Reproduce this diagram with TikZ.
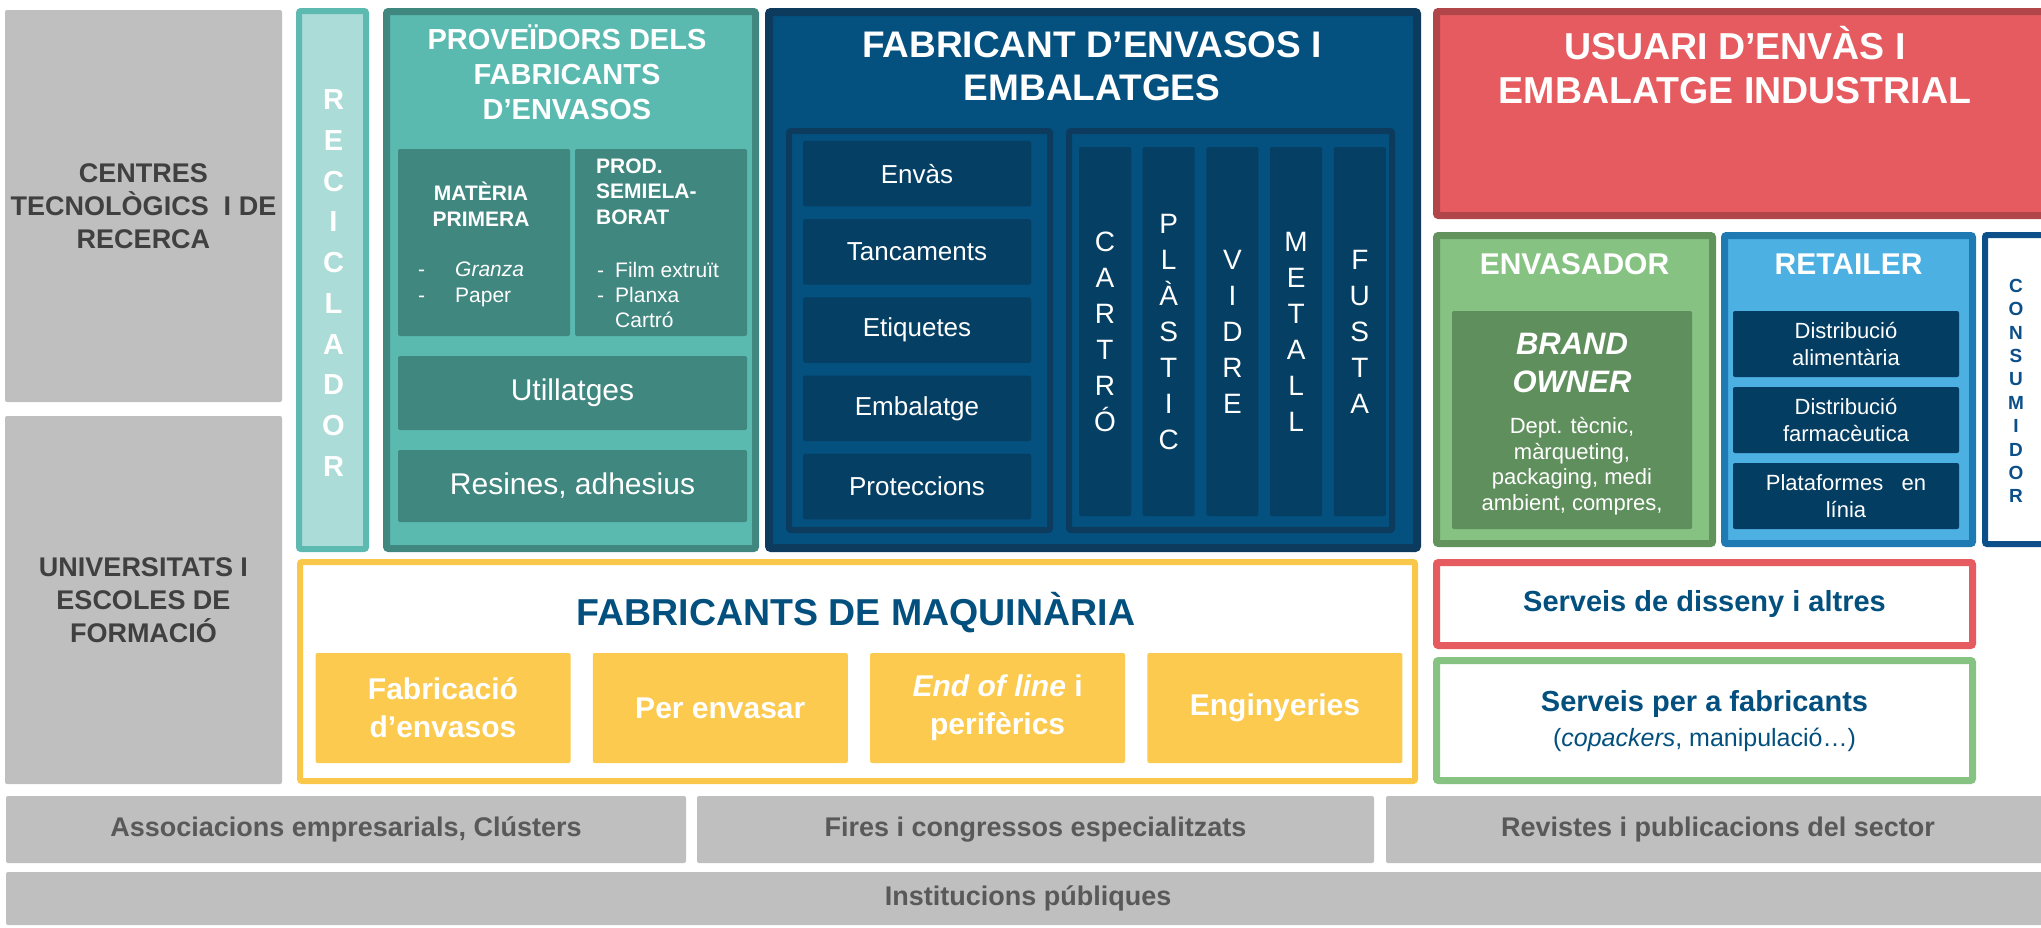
\documentclass[tikz,border=0pt]{standalone}
\usepackage{fontspec}
\setmainfont{Liberation Sans}
\usetikzlibrary{calc,positioning}
\definecolor{boxgrey}{HTML}{BFBFBF}
\definecolor{greytext}{HTML}{404040}
\definecolor{striptext}{HTML}{595959}
\definecolor{recfill}{HTML}{ACDCD7}
\definecolor{recborder}{HTML}{5CBAB1}
\definecolor{provfill}{HTML}{5BBAB0}
\definecolor{provdark}{HTML}{40877F}
\definecolor{fabfill}{HTML}{04507F}
\definecolor{fabborder}{HTML}{0C3B5E}
\definecolor{fabdark}{HTML}{053F64}
\definecolor{usufill}{HTML}{E55B5F}
\definecolor{usuborder}{HTML}{B0454A}
\definecolor{envfill}{HTML}{86C382}
\definecolor{envborder}{HTML}{62935D}
\definecolor{brandfill}{HTML}{5F8F5C}
\definecolor{retfill}{HTML}{4CB0E3}
\definecolor{retborder}{HTML}{1F79B3}
\definecolor{retdark}{HTML}{033D62}
\definecolor{consborder}{HTML}{0D5089}
\definecolor{maqborder}{HTML}{F9C84A}
\definecolor{maqfill}{HTML}{FBCA4E}
\definecolor{titleblue}{HTML}{03507F}

\begin{document}
\begin{tikzpicture}[x=1pt,y=-1pt]

\tikzset{box/.style={rounded corners=2pt,inner sep=0pt,align=center,text=white},
greybox/.style={box,fill=boxgrey,text=greytext,font=\fontsize{27}{33}\selectfont\bfseries},
strip/.style={box,fill=boxgrey,text=striptext,font=\fontsize{27}{32}\selectfont\bfseries},
title/.style={inner sep=0pt,align=center,text=white},
listitem/.style={inner sep=0pt,anchor=west,text height=15pt,text depth=0pt,text=white,font=\fontsize{21}{26}\selectfont},
letters/.style={inner sep=0pt,align=center}}

\useasboundingbox (0,0) rectangle (2041,927);

% Left grey boxes
\node[greybox,minimum width=277pt,minimum height=392pt] (centres) at (143.5,206) {CENTRES\\TECNOLÒGICS\ \ I DE\\RECERCA};
\node[greybox,minimum width=277pt,minimum height=368pt] (univ) at (143.5,600) {UNIVERSITATS I\\ESCOLES DE\\FORMACIÓ};

% Reciclador
\node[box,draw=recborder,fill=recfill,line width=6pt,minimum width=67pt,minimum height=538pt] (recic) at (332.5,280) {};
\node[letters,text=white,font=\fontsize{29}{40.7}\selectfont\bfseries] (reclabel) at (333.5,283) {R\\E\\C\\I\\C\\L\\A\\D\\O\\R};

% Proveidors
\node[box,draw=provdark,fill=provfill,line width=7pt,minimum width=369pt,minimum height=537pt] (prov) at (571,280) {};
\node[title,font=\fontsize{29}{35}\selectfont\bfseries] (provtitle) at (567,72) {PROVEÏDORS DELS\\FABRICANTS\\D’ENVASOS};
\node[box,fill=provdark,minimum width=172pt,minimum height=187pt] (matprim) at (484,242.5) {};
\node[box,fill=provdark,minimum width=172pt,minimum height=187pt] (prodsemi) at (661,242.5) {};
\node[title,font=\fontsize{21}{26}\selectfont\bfseries] (matlabel) at (481,204) {MATÈRIA\\PRIMERA};
\node[title,align=left,anchor=west,font=\fontsize{21}{25.5}\selectfont\bfseries] (prodlabel) at (596,191.5) {PROD.\\SEMIELA-\\BORAT};
\foreach \t [count=\i] in {\textit{Granza},Paper} {
  \node[listitem] (matdash\i) at (418,{242.2+\i*26.4}) {-};
  \node[listitem] (matitem\i) at (455,{242.2+\i*26.4}) {\t};
}
\foreach \i in {1,2} \node[listitem] (proddash\i) at (597,{245+\i*25}) {-};
\foreach \t [count=\i] in {Film extruït,Planxa,Cartró} \node[listitem] (proditem\i) at (615,{245+\i*25}) {\t};
\node[box,fill=provdark,minimum width=349pt,minimum height=74pt,font=\fontsize{30}{36}\selectfont] (utill) at (572.5,393) {Utillatges};
\node[box,fill=provdark,minimum width=349pt,minimum height=72pt,font=\fontsize{30}{36}\selectfont] (resines) at (572.5,486) {Resines, adhesius};

% Fabricant d'envasos
\node[box,draw=fabborder,fill=fabfill,line width=8pt,minimum width=648pt,minimum height=536pt] (fab) at (1093,280) {};
\node[title,font=\fontsize{37}{43}\selectfont\bfseries] (fabtitle) at (1092,66) {FABRICANT D’ENVASOS I\\EMBALATGES};
\node[box,draw=fabborder,fill=fabfill,line width=6pt,minimum width=261pt,minimum height=399pt] (fableft) at (919.5,330.5) {};
\node[box,draw=fabborder,fill=fabfill,line width=6pt,minimum width=323pt,minimum height=399pt] (fabright) at (1230.5,330.5) {};
\foreach \t [count=\i] in {Envàs,Tancaments,Etiquetes,Embalatge,Proteccions}
  \node[box,fill=fabdark,minimum width=228pt,minimum height=65.5pt,font=\fontsize{26}{31}\selectfont] (fabitem\i) at (917,{95.5+\i*78.2}) {\t};
\foreach \w [count=\i] in {{C\\A\\R\\T\\R\\Ó},{P\\L\\À\\S\\T\\I\\C},{V\\I\\D\\R\\E},{M\\E\\T\\A\\L\\L},{F\\U\\S\\T\\A}}
  \node[box,fill=fabdark,minimum width=52pt,minimum height=369pt,font=\fontsize{28}{36}\selectfont] (col\i) at ({1041.3+\i*63.7},331.5) {\w};

% Usuari
\node[box,draw=usuborder,fill=usufill,line width=7pt,minimum width=610pt,minimum height=204pt] (usuari) at (1741.5,113.5) {};
\node[title,font=\fontsize{37.5}{44.5}\selectfont\bfseries] (usutitle) at (1735,65) {USUARI D’ENVÀS I\\EMBALATGE INDUSTRIAL};

% Envasador
\node[box,draw=envborder,fill=envfill,line width=7pt,minimum width=276pt,minimum height=308pt] (envas) at (1574.5,389.5) {};
\node[title,font=\fontsize{30}{36}\selectfont\bfseries] (envtitle) at (1574.5,264) {ENVASADOR};
\node[box,fill=brandfill,minimum width=240pt,minimum height=218pt] (brand) at (1572,420) {};
\node[title,font=\fontsize{31}{37.5}\selectfont\bfseries\itshape] (brandlabel) at (1572,363) {BRAND\\OWNER};
\node[title,font=\fontsize{22}{25.6}\selectfont] (brandtext) at (1572,466) {Dept. tècnic,\\màrqueting,\\packaging, medi\\ambient, compres,};

% Retailer
\node[box,draw=retborder,fill=retfill,line width=7pt,minimum width=248pt,minimum height=308pt] (retail) at (1848.5,389.5) {};
\node[title,font=\fontsize{30}{36}\selectfont\bfseries] (rettitle) at (1848.5,264) {RETAILER};
\foreach \t [count=\i] in {{Distribució\\alimentària},{Distribució\\farmacèutica},{Plataformes\ \ \ en\\línia}}
  \node[box,fill=retdark,minimum width=226pt,minimum height=66pt,font=\fontsize{22}{27}\selectfont] (retitem\i) at (1846,{268+\i*76}) {\t};

% Consumidor
\node[box,draw=consborder,fill=white,line width=6pt,minimum width=62pt,minimum height=309pt] (consum) at (2016,389.5) {};
\node[letters,text=consborder,font=\fontsize{19}{23.4}\selectfont\bfseries] (conslabel) at (2016,391) {C\\O\\N\\S\\U\\M\\I\\D\\O\\R};

% Fabricants de maquinaria
\node[box,draw=maqborder,fill=white,line width=6pt,minimum width=1115pt,minimum height=219pt] (maq) at (857.5,671.5) {};
\node[title,text=titleblue,font=\fontsize{37.5}{42}\selectfont\bfseries] (maqtitle) at (856,612.7) {FABRICANTS DE MAQUINÀRIA};
\foreach \t [count=\i] in {{Fabricació\\d’envasos},{Per envasar},{\textit{End of line} i\\perifèrics},{Enginyeries}}
  \node[box,fill=maqfill,minimum width=255pt,minimum height=110pt,font=\fontsize{30}{38}\selectfont\bfseries] (maqitem\i) at ({165.7+\i*277.3},708) {\t};

% Serveis
\node[box,draw=usufill,fill=white,line width=7pt,minimum width=536pt,minimum height=83pt,text=titleblue,font=\fontsize{29}{35}\selectfont\bfseries] (servdis) at (1704.5,604) {Serveis de disseny i altres};
\node[box,draw=envfill,fill=white,line width=7pt,minimum width=536pt,minimum height=120pt] (servfab) at (1704.5,720.5) {};
\node[title,text=titleblue,font=\fontsize{29}{35}\selectfont\bfseries] (servfabtitle) at (1704.5,704) {Serveis per a fabricants};
\node[title,text=titleblue,font=\fontsize{25}{30}\selectfont] (servfabsub) at (1704.5,740) {(\textit{copackers}, manipulació…)};

% Bottom strips
\node[strip,minimum width=680pt,minimum height=67pt] (assoc) at (346,829.5) {Associacions empresarials, Clústers};
\node[strip,minimum width=677pt,minimum height=67pt] (fires) at (1035.5,829.5) {Fires i congressos especialitzats};
\node[strip,minimum width=664pt,minimum height=67pt] (revistes) at (1718,829.5) {Revistes i publicacions del sector};
\node[strip,minimum width=2044pt,minimum height=53pt] (instit) at (1028,898.5) {Institucions públiques};

\end{tikzpicture}
\end{document}
